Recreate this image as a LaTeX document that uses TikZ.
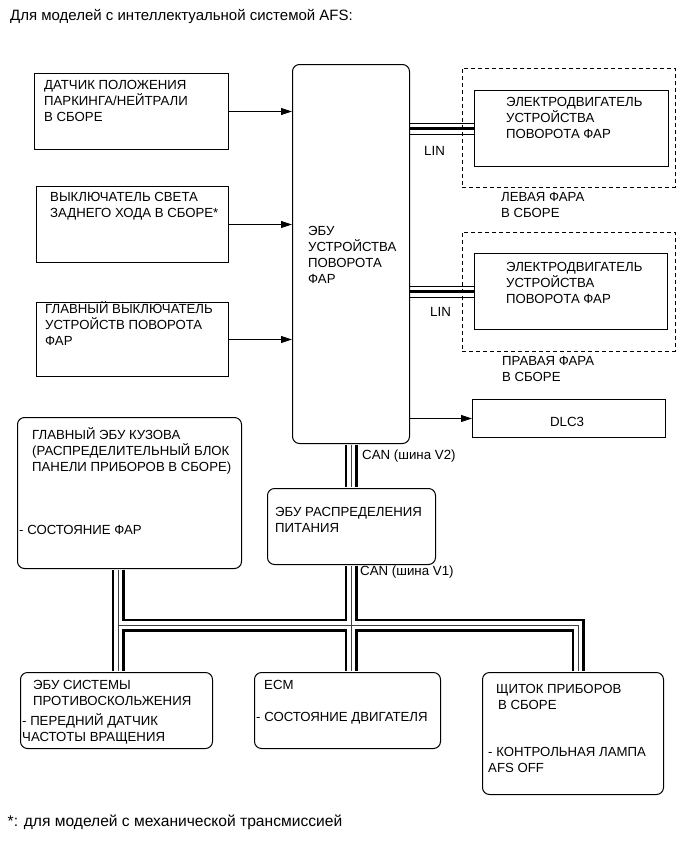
\documentclass[tikz,border=0pt]{standalone}
\usepackage{fontspec}
\setmainfont{Liberation Sans}
\usetikzlibrary{arrows.meta}
\begin{document}
\begin{tikzpicture}[x=1pt,y=-1pt,
  box/.style={draw, line width=1pt, anchor=north west, inner sep=0pt, fill=white},
  rbox/.style={box, rounded corners=7pt},
  dbox/.style={draw, line width=0.9pt, dash pattern=on 4pt off 3pt, anchor=north west, inner sep=0pt},
  txt/.style={anchor=base west, inner sep=0pt, align=left, font=\fontsize{13.2}{16.3}\selectfont},
  big/.style={font=\fontsize{15}{18}\selectfont},
  bigf/.style={font=\fontsize{15.6}{18}\selectfont},
  mid/.style={font=\fontsize{13.3}{16}\selectfont},
  n2/.style={yshift=-16.3pt},
  n3/.style={yshift=-32.6pt},
  n4/.style={yshift=-48.9pt},
  arr/.style={line width=1pt, -{Triangle[length=11pt,width=7pt]}},
  linA/.style={line width=0.8pt},
  linB/.style={line width=2.6pt},
  linC/.style={line width=1.2pt},
  busout/.style={line width=13pt, line join=miter, shorten <=0.6pt, shorten >=0.6pt},
  busin/.style={line width=7.5pt, white, line join=miter, shorten <=0.6pt, shorten >=0.6pt},
  buscore/.style={line width=0.9pt, black!75, line join=miter, shorten <=0.6pt, shorten >=0.6pt}]
\useasboundingbox (0,0) rectangle (691,855);

% boxes
\node[box, minimum width=194pt, minimum height=76pt] (b1) at (34,73) {};
\node[box, minimum width=192pt, minimum height=76pt] (b2) at (36,186) {};
\node[box, minimum width=192pt, minimum height=74pt] (b3) at (36,302) {};
\node[rbox, minimum width=117pt, minimum height=379pt] (ecu) at (292,64) {};
\node[dbox, minimum width=213pt, minimum height=119pt] (dashL) at (462,68) {};
\node[box, minimum width=194pt, minimum height=76pt] (motL) at (474,90) {};
\node[dbox, minimum width=213pt, minimum height=119pt] (dashR) at (462,232) {};
\node[box, minimum width=193pt, minimum height=76pt] (motR) at (474,253) {};
\node[box, minimum width=193pt, minimum height=38pt] (dlc) at (472,399) {};
\node[rbox, minimum width=224pt, minimum height=151pt] (body) at (17,417) {};
\node[rbox, minimum width=168pt, minimum height=76pt] (pwr) at (267,488) {};
\node[rbox, minimum width=192pt, minimum height=76pt] (abs) at (20,672) {};
\node[rbox, minimum width=186pt, minimum height=76pt] (ecm) at (254,672) {};
\node[rbox, minimum width=181pt, minimum height=122pt] (clus) at (482,672) {};

% bus junction coordinates
\coordinate (bl) at (118,625);
\coordinate (bm) at (351,625);
\coordinate (br) at (578,625);

% CAN buses
\foreach \s in {busout,busin,buscore}{
  \draw[\s] (bm |- ecu.south) -- (bm |- pwr.north);
  \draw[\s] (bm |- pwr.south) -- (bm |- ecm.north);
  \draw[\s] (bl |- body.south) -- (bl |- abs.north);
  \draw[\s] (bl) -- (br) -- (br |- clus.north);
}

% LIN lines
\coordinate (la) at ([yshift=5pt]motL.west);
\coordinate (lb) at (motL.west);
\coordinate (lc) at ([yshift=-6pt]motL.west);
\draw[linA] (la -| ecu.east) -- (la);
\draw[linB] (lb -| ecu.east) -- (lb);
\draw[linC] (lc -| ecu.east) -- (lc);
\coordinate (ra) at ([yshift=5pt]motR.west);
\coordinate (rb) at (motR.west);
\coordinate (rc) at ([yshift=-6pt]motR.west);
\draw[linA] (ra -| ecu.east) -- (ra);
\draw[linB] (rb -| ecu.east) -- (rb);
\draw[linC] (rc -| ecu.east) -- (rc);

% arrows
\draw[arr] (b1.east) -- (b1.east -| ecu.west);
\draw[arr] (b2.east) -- (b2.east -| ecu.west);
\draw[arr] (b3.east) -- (b3.east -| ecu.west);
\draw[arr] (dlc.west -| ecu.east) -- (dlc.west);

% texts
\node[txt, big] (title) at (10,20.5) {Для моделей с интеллектуальной системой AFS:};
\node[txt, n3] (t1) at (44,89) {ДАТЧИК ПОЛОЖЕНИЯ\\ПАРКИНГА/НЕЙТРАЛИ\\В СБОРЕ};
\node[txt, n2] (t2) at (50,201.5) {ВЫКЛЮЧАТЕЛЬ СВЕТА\\ЗАДНЕГО ХОДА В СБОРЕ*};
\node[txt, n3] (t3) at (45,313) {ГЛАВНЫЙ ВЫКЛЮЧАТЕЛЬ\\УСТРОЙСТВ ПОВОРОТА\\ФАР};
\node[txt, n4] (tecu) at (308,235) {ЭБУ\\УСТРОЙСТВА\\ПОВОРОТА\\ФАР};
\node[txt, n3] (tmotL) at (506,106) {ЭЛЕКТРОДВИГАТЕЛЬ\\УСТРОЙСТВА\\ПОВОРОТА ФАР};
\node[txt, mid] (linL) at (424,155) {LIN};
\node[txt, n2] (hlL) at (501,201.5) {ЛЕВАЯ ФАРА\\В СБОРЕ};
\node[txt, n3] (tmotR) at (506,271) {ЭЛЕКТРОДВИГАТЕЛЬ\\УСТРОЙСТВА\\ПОВОРОТА ФАР};
\node[txt, mid] (linR) at (430,316.5) {LIN};
\node[txt, n2] (hlR) at (502,365.5) {ПРАВАЯ ФАРА\\В СБОРЕ};
\node[txt, mid, anchor=base] (tdlc) at (567,426) {DLC3};
\node[txt, mid] (can2) at (362,459) {CAN (шина V2)};
\node[txt, mid] (can1) at (360,575) {CAN (шина V1)};
\node[txt, n3] (tbody) at (32,439) {ГЛАВНЫЙ ЭБУ КУЗОВА\\(РАСПРЕДЕЛИТЕЛЬНЫЙ БЛОК\\ПАНЕЛИ ПРИБОРОВ В СБОРЕ)};
\node[txt] (tbody2) at (19,534) {- СОСТОЯНИЕ ФАР};
\node[txt, n2] (tpwr) at (275,516.5) {ЭБУ РАСПРЕДЕЛЕНИЯ\\ПИТАНИЯ};
\node[txt, n2] (tabs) at (33,689) {ЭБУ СИСТЕМЫ\\ПРОТИВОСКОЛЬЖЕНИЯ};
\node[txt, n2] (tabs2) at (22,725) {- ПЕРЕДНИЙ ДАТЧИК\\ЧАСТОТЫ ВРАЩЕНИЯ};
\node[txt] (tecm) at (264,689) {ECM};
\node[txt] (tecm2) at (256,721) {- СОСТОЯНИЕ ДВИГАТЕЛЯ};
\node[txt, n2] (tclus) at (496,693) {ЩИТОК ПРИБОРОВ\\\hspace*{2pt}В СБОРЕ};
\node[txt, n2] (tclus2) at (488,756) {- КОНТРОЛЬНАЯ ЛАМПА\\AFS OFF};
\node[txt, bigf] (foot) at (7.5,826) {*: для моделей с механической трансмиссией};
\end{tikzpicture}
\end{document}
